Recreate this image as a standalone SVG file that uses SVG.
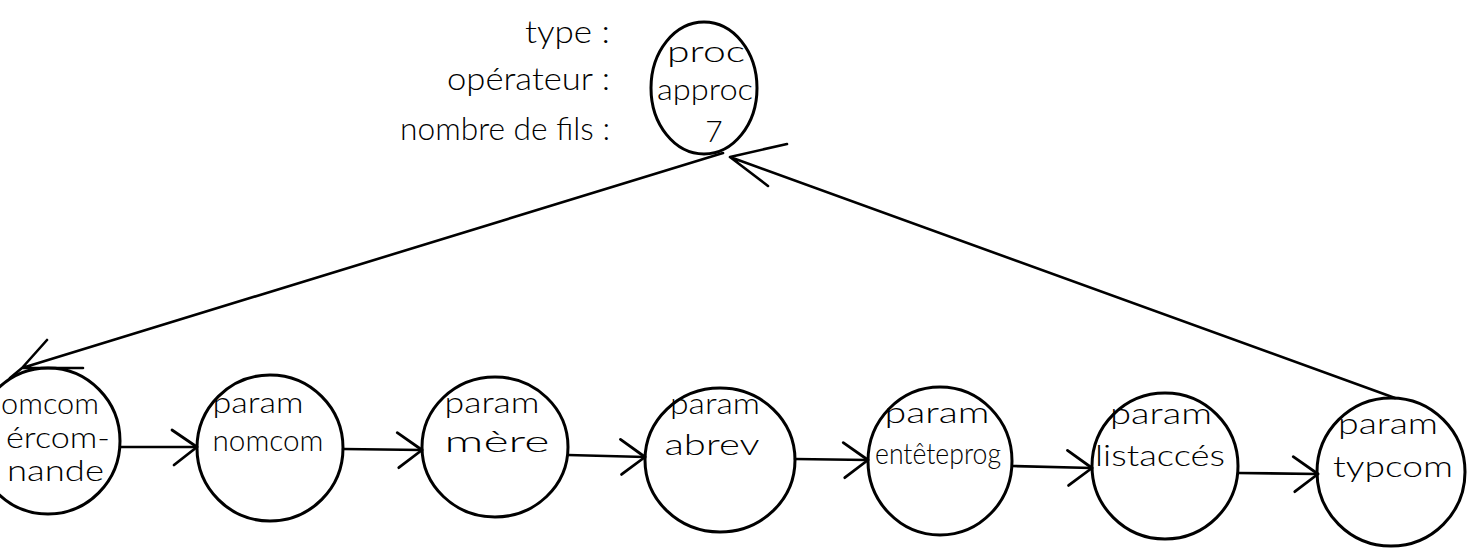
<svg xmlns="http://www.w3.org/2000/svg" width="1479" height="549" viewBox="0 0 1479 549">
<style>
.node{fill:none;stroke:#000;stroke-width:3}
.edge{fill:none;stroke:#000;stroke-width:2.6;stroke-linecap:round;stroke-linejoin:round}
.t{font-family:"Lato","Open Sans",sans-serif;font-size:30px;fill:#000;font-weight:300}
.lbl{font-family:"Lato","Open Sans",sans-serif;font-size:31px;fill:#000;font-weight:300;text-anchor:end}
.c{text-anchor:middle}
</style>
<defs>
<marker id="chev" markerUnits="userSpaceOnUse" markerWidth="60" markerHeight="60" refX="0" refY="0" viewBox="-40 -30 60 60" orient="auto" overflow="visible">
<path d="M-25,-17 L0,0 L-23,18" fill="none" stroke="#000" stroke-width="2.8" stroke-linecap="round" stroke-linejoin="round"/>
</marker>
</defs>
<g id="labels">
<text class="lbl" x="610" y="43" textLength="85" lengthAdjust="spacingAndGlyphs">type :</text>
<text class="lbl" x="610" y="90" textLength="163" lengthAdjust="spacingAndGlyphs">opérateur :</text>
<text class="lbl" x="610" y="140" textLength="210" lengthAdjust="spacingAndGlyphs">nombre de fils :</text>
</g>
<g id="connectors">
<path class="edge" d="M120,447 L197,447" marker-end="url(#chev)"/>
<path class="edge" d="M343,449 L422,450" marker-end="url(#chev)"/>
<path class="edge" d="M568,455 L645,457" marker-end="url(#chev)"/>
<path class="edge" d="M795,459 L868,460" marker-end="url(#chev)"/>
<path class="edge" d="M1013,466 L1092,468" marker-end="url(#chev)"/>
<path class="edge" d="M1238,473 L1318,474" marker-end="url(#chev)"/>
<path class="edge" d="M723,153 L22,368 L10,378 M22,368 L47,340 M22,368 L83,368"/>
<path class="edge" d="M1395,398 L730,157 M730,157 L787,144 M730,157 L768,186"/>
</g>
<g id="n0">
<ellipse class="node" cx="704" cy="88" rx="53" ry="66"/>
<text class="t c" x="706" y="62" textLength="78" lengthAdjust="spacingAndGlyphs">proc</text>
<text class="t c" x="705" y="100" textLength="96" lengthAdjust="spacingAndGlyphs">approc</text>
<text class="t c" x="714" y="142">7</text>
</g>
<g id="n1">
<ellipse class="node" cx="48" cy="441" rx="72" ry="73"/>
<text class="t" x="1" y="414" textLength="98" lengthAdjust="spacingAndGlyphs">omcom</text>
<text class="t" x="6" y="448" textLength="104" lengthAdjust="spacingAndGlyphs">ércom-</text>
<text class="t" x="7" y="481" textLength="97" lengthAdjust="spacingAndGlyphs">nande</text>
</g>
<g id="n2">
<ellipse class="node" cx="270" cy="448" rx="73" ry="73"/>
<text class="t c" x="258" y="413" textLength="91" lengthAdjust="spacingAndGlyphs">param</text>
<text class="t c" x="268" y="451" textLength="111" lengthAdjust="spacingAndGlyphs">nomcom</text>
</g>
<g id="n3">
<ellipse class="node" cx="495" cy="447" rx="73" ry="70"/>
<text class="t c" x="492" y="413" textLength="95" lengthAdjust="spacingAndGlyphs">param</text>
<text class="t c" x="497" y="452" textLength="105" lengthAdjust="spacingAndGlyphs">mère</text>
</g>
<g id="n4">
<ellipse class="node" cx="720" cy="460" rx="75" ry="72"/>
<text class="t c" x="715" y="414" textLength="90" lengthAdjust="spacingAndGlyphs">param</text>
<text class="t c" x="712" y="455" textLength="95" lengthAdjust="spacingAndGlyphs">abrev</text>
</g>
<g id="n5">
<ellipse class="node" cx="940" cy="461" rx="72" ry="74"/>
<text class="t c" x="937" y="423" textLength="105" lengthAdjust="spacingAndGlyphs">param</text>
<text class="t c" x="938" y="464" textLength="126" lengthAdjust="spacingAndGlyphs">entêteprog</text>
</g>
<g id="n6">
<ellipse class="node" cx="1165" cy="466" rx="73" ry="73"/>
<text class="t c" x="1161" y="424" textLength="102" lengthAdjust="spacingAndGlyphs">param</text>
<text class="t c" x="1160" y="466" textLength="130" lengthAdjust="spacingAndGlyphs">listaccés</text>
</g>
<g id="n7">
<ellipse class="node" cx="1391" cy="472" rx="74" ry="74"/>
<text class="t c" x="1388" y="434" textLength="100" lengthAdjust="spacingAndGlyphs">param</text>
<text class="t c" x="1393" y="477" textLength="120" lengthAdjust="spacingAndGlyphs">typcom</text>
</g>
</svg>
